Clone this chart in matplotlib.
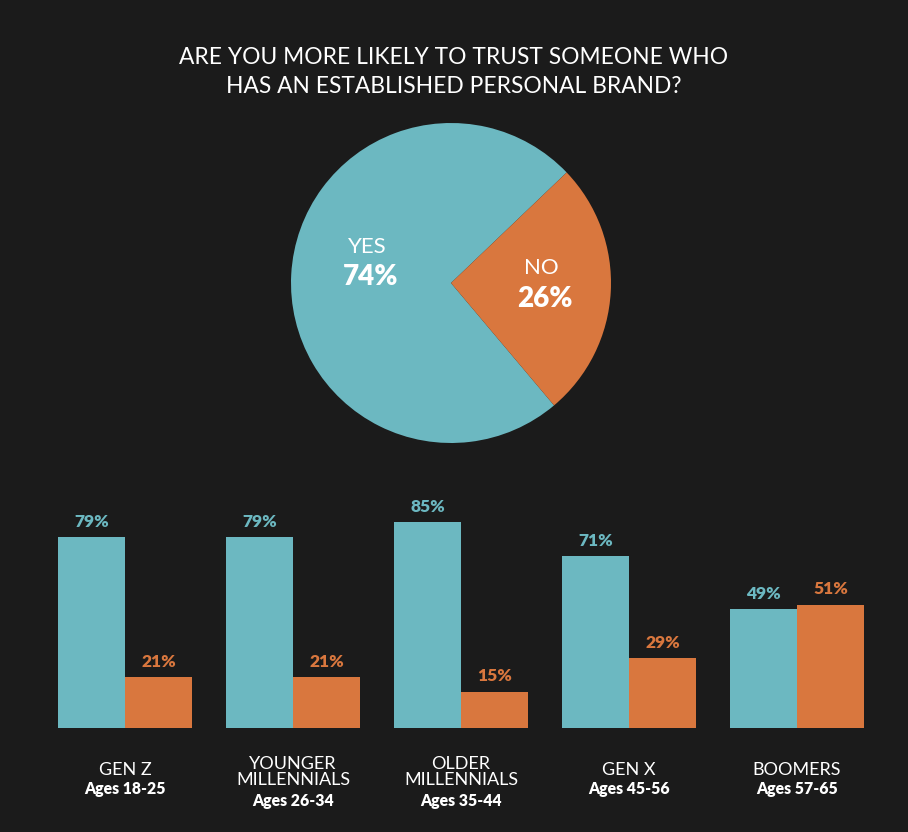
import matplotlib
matplotlib.use('Agg')
import matplotlib.pyplot as plt

# pie data
pie_labels = ['YES', 'NO']
pie_values = [74, 26]

# bars by generation
groups = ['GEN Z', 'YOUNGER\nMILLENNIALS', 'OLDER\nMILLENNIALS', 'GEN X', 'BOOMERS']
ages = ['Ages 18-25', 'Ages 26-34', 'Ages 35-44', 'Ages 45-56', 'Ages 57-65']
yes_vals = [79, 79, 85, 71, 49]
no_vals = [21, 21, 15, 29, 51]

bg = '#1b1b1b'
teal = '#6cb8c1'
orange = '#d9773e'
plt.rcParams['font.family'] = ['Lato', 'DejaVu Sans']

W, H = 908, 832
fig = plt.figure(figsize=(W / 100, H / 100), dpi=100, facecolor=bg)

fig.text(0.5, 1 - 72 / H, 'ARE YOU MORE LIKELY TO TRUST SOMEONE WHO\nHAS AN ESTABLISHED PERSONAL BRAND?',
         ha='center', va='center', color='white', fontsize=16.4, fontweight='normal', linespacing=1.5)

# pie
r = 160
cx, cy = 451, 283
ax_pie = fig.add_axes([(cx - r) / W, (H - cy - r) / H, 2 * r / W, 2 * r / H])
ax_pie.pie(pie_values, colors=[teal, orange], startangle=43.7, counterclock=True,
           wedgeprops={'linewidth': 0})
ax_pie.set_xlim(-1, 1)
ax_pie.set_ylim(-1, 1)
ax_pie.axis('off')
ax_pie.text(-0.525, 0.225, pie_labels[0], ha='center', va='center', color='white', fontsize=16)
ax_pie.text(-0.50, 0.04, '{}%'.format(pie_values[0]), ha='center', va='center', color='white', fontsize=20, fontweight='heavy')
ax_pie.text(0.5625, 0.094, pie_labels[1], ha='center', va='center', color='white', fontsize=16)
ax_pie.text(0.5875, -0.10, '{}%'.format(pie_values[1]), ha='center', va='center', color='white', fontsize=20, fontweight='heavy')

# bars
base = 728
ax = fig.add_axes([41 / W, (H - base) / H, 840 / W, 242 / H])
ax.set_facecolor(bg)
bw = 67 / 168
xs = list(range(len(groups)))
ax.bar([x - bw / 2 for x in xs], yes_vals, width=bw, color=teal, linewidth=0)
ax.bar([x + bw / 2 for x in xs], no_vals, width=bw, color=orange, linewidth=0)
for x, y, n in zip(xs, yes_vals, no_vals):
    ax.text(x - bw / 2, y + 3, '{}%'.format(y), ha='center', va='bottom', color=teal, fontsize=12.5, fontweight='heavy')
    ax.text(x + bw / 2, n + 3, '{}%'.format(n), ha='center', va='bottom', color=orange, fontsize=12.5, fontweight='heavy')
ax.set_xlim(-0.5, len(groups) - 0.5)
ax.set_ylim(0, 100)
ax.axis('off')

# group labels under the bars
for x, g, a in zip(xs, groups, ages):
    px = 125 + 168 * x
    nl = g.count('\n')
    fig.text(px / W, 1 - (789 + 12 * nl) / H, a, ha='center', va='center', color='white', fontsize=11.3, fontweight='heavy')
    fig.text(px / W, 1 - (778 + 10 * nl) / H, g, ha='center', va='bottom', color='white', fontsize=13,
             linespacing=1.0)

fig.savefig('out.png', dpi=100, facecolor=bg)
